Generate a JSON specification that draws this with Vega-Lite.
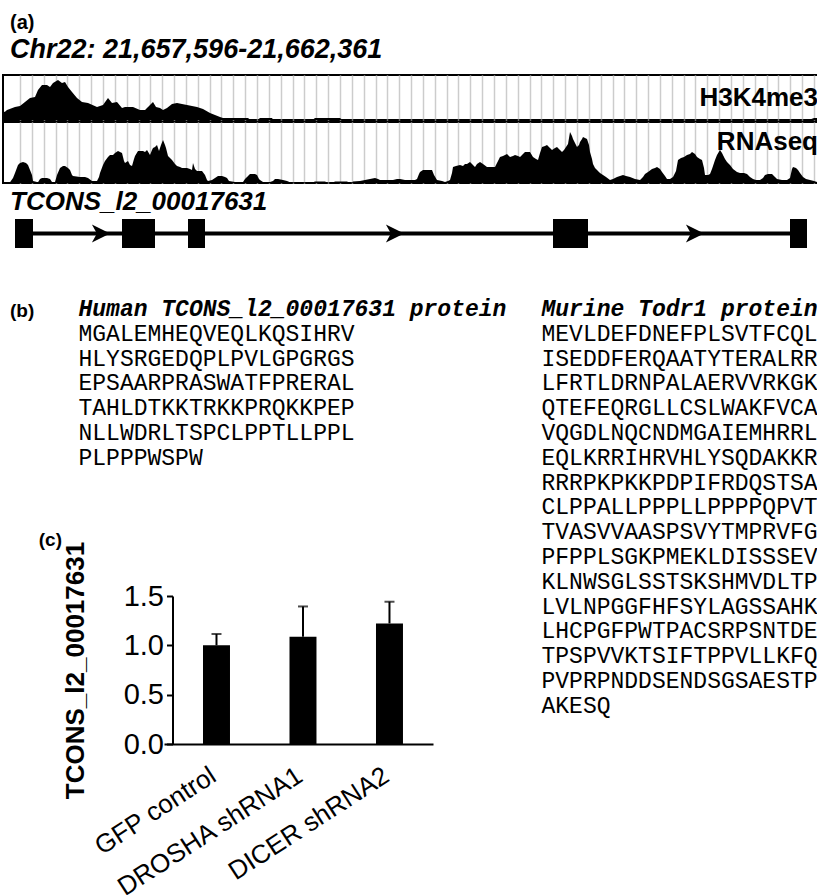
{
  "$schema": "https://vega.github.io/schema/vega-lite/v6.json",
  "background": "white",
  "padding": {"left": 2, "top": 12, "right": 0, "bottom": 0},
  "config": {
    "view": {"stroke": null},
    "font": "Liberation Sans",
    "title": {"color": "black", "font": "Liberation Sans", "fontWeight": "bold"},
    "axis": {"labelColor": "black", "titleColor": "black", "domainColor": "black", "tickColor": "black", "labelFont": "Liberation Sans", "titleFont": "Liberation Sans"}
  },
  "datasets": {
    "h3k4me3": [
      {"pos":0,"signal":8},{"pos":12,"signal":8.3},{"pos":24,"signal":10},{"pos":72,"signal":13},{"pos":102,"signal":14},{"pos":132,"signal":18},{"pos":162,"signal":22},{"pos":192,"signal":23},{"pos":210,"signal":30},{"pos":234,"signal":35},{"pos":264,"signal":35},{"pos":282,"signal":33},{"pos":300,"signal":37},{"pos":330,"signal":40},{"pos":354,"signal":37},{"pos":372,"signal":38},{"pos":390,"signal":33},{"pos":414,"signal":28},{"pos":444,"signal":22},{"pos":474,"signal":18},{"pos":510,"signal":17},{"pos":564,"signal":13},{"pos":600,"signal":15},{"pos":630,"signal":22},{"pos":654,"signal":17},{"pos":684,"signal":18},{"pos":714,"signal":12},{"pos":732,"signal":13},{"pos":780,"signal":13},{"pos":822,"signal":10},{"pos":852,"signal":10},{"pos":870,"signal":13},{"pos":900,"signal":18},{"pos":918,"signal":13},{"pos":942,"signal":12},{"pos":960,"signal":10},{"pos":984,"signal":12},{"pos":1014,"signal":16},{"pos":1044,"signal":17},{"pos":1104,"signal":15},{"pos":1164,"signal":13},{"pos":1200,"signal":11},{"pos":1242,"signal":7},{"pos":1302,"signal":3},{"pos":1320,"signal":2},{"pos":1470,"signal":2},{"pos":1482,"signal":0.5},{"pos":1530,"signal":0.5},{"pos":1542,"signal":2},{"pos":1614,"signal":2},{"pos":1620,"signal":0.5},{"pos":1860,"signal":0.5},{"pos":1872,"signal":2},{"pos":2022,"signal":2},{"pos":2034,"signal":0.5},{"pos":4842,"signal":0.5},{"pos":4866,"signal":2},{"pos":4980,"signal":2}
    ],
    "rnaseq": [
      {"pos":0,"signal":0.7},{"pos":42,"signal":0.7},{"pos":60,"signal":5},{"pos":72,"signal":10},{"pos":90,"signal":18},{"pos":102,"signal":20},{"pos":120,"signal":21},{"pos":138,"signal":20},{"pos":150,"signal":18},{"pos":162,"signal":13},{"pos":174,"signal":8},{"pos":180,"signal":2},{"pos":210,"signal":0.7},{"pos":222,"signal":4},{"pos":234,"signal":5},{"pos":264,"signal":5},{"pos":282,"signal":4},{"pos":294,"signal":1},{"pos":312,"signal":1},{"pos":324,"signal":8},{"pos":342,"signal":15},{"pos":360,"signal":17},{"pos":372,"signal":17},{"pos":390,"signal":15},{"pos":402,"signal":13},{"pos":414,"signal":8},{"pos":420,"signal":7},{"pos":462,"signal":6},{"pos":492,"signal":6},{"pos":510,"signal":5},{"pos":534,"signal":2},{"pos":564,"signal":2},{"pos":576,"signal":6},{"pos":582,"signal":10},{"pos":600,"signal":18},{"pos":612,"signal":22},{"pos":630,"signal":26},{"pos":642,"signal":28},{"pos":660,"signal":28},{"pos":672,"signal":30},{"pos":690,"signal":32},{"pos":702,"signal":31},{"pos":714,"signal":30},{"pos":726,"signal":22},{"pos":732,"signal":20},{"pos":750,"signal":22},{"pos":762,"signal":18},{"pos":774,"signal":17},{"pos":786,"signal":24},{"pos":792,"signal":27},{"pos":810,"signal":32},{"pos":828,"signal":32},{"pos":840,"signal":32},{"pos":852,"signal":31},{"pos":864,"signal":33},{"pos":882,"signal":28},{"pos":894,"signal":33},{"pos":900,"signal":35},{"pos":912,"signal":36},{"pos":924,"signal":38},{"pos":936,"signal":32},{"pos":948,"signal":38},{"pos":960,"signal":43},{"pos":972,"signal":38},{"pos":978,"signal":35},{"pos":990,"signal":27},{"pos":1002,"signal":25},{"pos":1014,"signal":23},{"pos":1032,"signal":19},{"pos":1044,"signal":17},{"pos":1062,"signal":16},{"pos":1074,"signal":15},{"pos":1104,"signal":15},{"pos":1122,"signal":14},{"pos":1134,"signal":13},{"pos":1140,"signal":20},{"pos":1152,"signal":14},{"pos":1164,"signal":12},{"pos":1194,"signal":12},{"pos":1212,"signal":8},{"pos":1224,"signal":3},{"pos":1230,"signal":2},{"pos":1254,"signal":3},{"pos":1272,"signal":5},{"pos":1290,"signal":7},{"pos":1314,"signal":7},{"pos":1332,"signal":6},{"pos":1344,"signal":5},{"pos":1356,"signal":2},{"pos":1392,"signal":1},{"pos":1440,"signal":1},{"pos":1452,"signal":4},{"pos":1464,"signal":6},{"pos":1482,"signal":9},{"pos":1512,"signal":9},{"pos":1524,"signal":8},{"pos":1536,"signal":4},{"pos":1542,"signal":3},{"pos":1560,"signal":1},{"pos":1602,"signal":1},{"pos":1620,"signal":2},{"pos":1632,"signal":4},{"pos":1650,"signal":4},{"pos":1680,"signal":3},{"pos":1704,"signal":2},{"pos":1722,"signal":0.7},{"pos":1860,"signal":0.7},{"pos":1872,"signal":1.5},{"pos":1932,"signal":1.5},{"pos":1944,"signal":0.5},{"pos":1980,"signal":0.5},{"pos":1992,"signal":1.5},{"pos":2064,"signal":1.5},{"pos":2076,"signal":0.5},{"pos":2094,"signal":0.5},{"pos":2100,"signal":1.5},{"pos":2142,"signal":2},{"pos":2172,"signal":3},{"pos":2202,"signal":4},{"pos":2232,"signal":5},{"pos":2250,"signal":4},{"pos":2262,"signal":3},{"pos":2340,"signal":3},{"pos":2364,"signal":4},{"pos":2382,"signal":4},{"pos":2412,"signal":3},{"pos":2472,"signal":3},{"pos":2484,"signal":4},{"pos":2496,"signal":9},{"pos":2502,"signal":11},{"pos":2520,"signal":13},{"pos":2550,"signal":13},{"pos":2574,"signal":13},{"pos":2586,"signal":8},{"pos":2604,"signal":3},{"pos":2634,"signal":2},{"pos":2652,"signal":1},{"pos":2670,"signal":2},{"pos":2682,"signal":3},{"pos":2694,"signal":10},{"pos":2700,"signal":16},{"pos":2718,"signal":17},{"pos":2742,"signal":18},{"pos":2760,"signal":17},{"pos":2772,"signal":19},{"pos":2784,"signal":19},{"pos":2802,"signal":21},{"pos":2814,"signal":19},{"pos":2832,"signal":16},{"pos":2844,"signal":19},{"pos":2862,"signal":21},{"pos":2880,"signal":19},{"pos":2904,"signal":16},{"pos":2952,"signal":16},{"pos":2964,"signal":20},{"pos":2982,"signal":26},{"pos":3000,"signal":27},{"pos":3024,"signal":29},{"pos":3042,"signal":26},{"pos":3060,"signal":27},{"pos":3072,"signal":28},{"pos":3090,"signal":27},{"pos":3102,"signal":26},{"pos":3120,"signal":29},{"pos":3132,"signal":31},{"pos":3162,"signal":31},{"pos":3180,"signal":26},{"pos":3198,"signal":24},{"pos":3210,"signal":23},{"pos":3222,"signal":30},{"pos":3234,"signal":36},{"pos":3252,"signal":37},{"pos":3264,"signal":38},{"pos":3282,"signal":35},{"pos":3294,"signal":33},{"pos":3312,"signal":35},{"pos":3324,"signal":36},{"pos":3342,"signal":33},{"pos":3354,"signal":31},{"pos":3366,"signal":33},{"pos":3378,"signal":36},{"pos":3390,"signal":39},{"pos":3402,"signal":51},{"pos":3414,"signal":47},{"pos":3420,"signal":44},{"pos":3432,"signal":40},{"pos":3444,"signal":36},{"pos":3456,"signal":38},{"pos":3462,"signal":41},{"pos":3474,"signal":44},{"pos":3480,"signal":46},{"pos":3492,"signal":45},{"pos":3504,"signal":44},{"pos":3516,"signal":38},{"pos":3522,"signal":31},{"pos":3534,"signal":24},{"pos":3540,"signal":19},{"pos":3552,"signal":15},{"pos":3564,"signal":13},{"pos":3582,"signal":10},{"pos":3600,"signal":8},{"pos":3618,"signal":6},{"pos":3642,"signal":3},{"pos":3660,"signal":4},{"pos":3684,"signal":6},{"pos":3702,"signal":7},{"pos":3720,"signal":8},{"pos":3738,"signal":7},{"pos":3762,"signal":6},{"pos":3792,"signal":4},{"pos":3822,"signal":3},{"pos":3840,"signal":6},{"pos":3852,"signal":9},{"pos":3870,"signal":11},{"pos":3894,"signal":14},{"pos":3912,"signal":15},{"pos":3924,"signal":16},{"pos":3942,"signal":14},{"pos":3954,"signal":11},{"pos":3972,"signal":7},{"pos":3984,"signal":4},{"pos":4002,"signal":4},{"pos":4020,"signal":6},{"pos":4038,"signal":12},{"pos":4050,"signal":23},{"pos":4068,"signal":25},{"pos":4086,"signal":26},{"pos":4104,"signal":28},{"pos":4122,"signal":29},{"pos":4134,"signal":31},{"pos":4152,"signal":29},{"pos":4164,"signal":26},{"pos":4182,"signal":24},{"pos":4194,"signal":23},{"pos":4206,"signal":15},{"pos":4212,"signal":8},{"pos":4230,"signal":8},{"pos":4242,"signal":9},{"pos":4254,"signal":14},{"pos":4272,"signal":23},{"pos":4284,"signal":28},{"pos":4302,"signal":33},{"pos":4314,"signal":30},{"pos":4332,"signal":24},{"pos":4344,"signal":21},{"pos":4362,"signal":18},{"pos":4380,"signal":14},{"pos":4404,"signal":11},{"pos":4422,"signal":10},{"pos":4446,"signal":10},{"pos":4464,"signal":9},{"pos":4482,"signal":6},{"pos":4500,"signal":4},{"pos":4518,"signal":3},{"pos":4542,"signal":3},{"pos":4560,"signal":5},{"pos":4572,"signal":8},{"pos":4590,"signal":9},{"pos":4614,"signal":9},{"pos":4632,"signal":6},{"pos":4644,"signal":4},{"pos":4674,"signal":3},{"pos":4704,"signal":3},{"pos":4722,"signal":5},{"pos":4734,"signal":14},{"pos":4740,"signal":16},{"pos":4758,"signal":15},{"pos":4770,"signal":13},{"pos":4782,"signal":10},{"pos":4800,"signal":6},{"pos":4818,"signal":4},{"pos":4842,"signal":3},{"pos":4866,"signal":2},{"pos":4884,"signal":1},{"pos":4980,"signal":1}
    ],
    "transcript": [{"name": "TCONS_l2_00017631", "start": 72, "end": 4824}],
    "exons": [
      {"exon": 1, "start": 72, "end": 180},
      {"exon": 2, "start": 714, "end": 912},
      {"exon": 3, "start": 1110, "end": 1212},
      {"exon": 4, "start": 3300, "end": 3510},
      {"exon": 5, "start": 4722, "end": 4824}
    ],
    "strand": [{"pos": 588}, {"pos": 2352}, {"pos": 4152}],
    "human": [
      {"line": 0, "text": "Human TCONS_l2_00017631 protein"},
      {"line": 1, "text": "MGALEMHEQVEQLKQSIHRV"},
      {"line": 2, "text": "HLYSRGEDQPLPVLGPGRGS"},
      {"line": 3, "text": "EPSAARPRASWATFPRERAL"},
      {"line": 4, "text": "TAHLDTKKTRKKPRQKKPEP"},
      {"line": 5, "text": "NLLWDRLTSPCLPPTLLPPL"},
      {"line": 6, "text": "PLPPPWSPW"}
    ],
    "murine": [
      {"line": 0, "text": "Murine Todr1 protein"},
      {"line": 1, "text": "MEVLDEFDNEFPLSVTFCQL"},
      {"line": 2, "text": "ISEDDFERQAATYTERALRR"},
      {"line": 3, "text": "LFRTLDRNPALAERVVRKGK"},
      {"line": 4, "text": "QTEFEQRGLLCSLWAKFVCA"},
      {"line": 5, "text": "VQGDLNQCNDMGAIEMHRRL"},
      {"line": 6, "text": "EQLKRRIHRVHLYSQDAKKR"},
      {"line": 7, "text": "RRRPKPKKPDPIFRDQSTSA"},
      {"line": 8, "text": "CLPPALLPPPLLPPPPQPVT"},
      {"line": 9, "text": "TVASVVAASPSVYTMPRVFG"},
      {"line": 10, "text": "PFPPLSGKPMEKLDISSSEV"},
      {"line": 11, "text": "KLNWSGLSSTSKSHMVDLTP"},
      {"line": 12, "text": "LVLNPGGFHFSYLAGSSAHK"},
      {"line": 13, "text": "LHCPGFPWTPACSRPSNTDE"},
      {"line": 14, "text": "TPSPVVKTSIFTPPVLLKFQ"},
      {"line": 15, "text": "PVPRPNDDSENDSGSAESTP"},
      {"line": 16, "text": "AKESQ"}
    ],
    "expression": [
      {"condition": "GFP control", "mean": 1.0, "upper": 1.115},
      {"condition": "DROSHA shRNA1", "mean": 1.087, "upper": 1.394},
      {"condition": "DICER shRNA2", "mean": 1.222, "upper": 1.442}
    ]
  },
  "spacing": 50,
  "vconcat": [
    {
      "spacing": 5,
      "vconcat": [
        {
          "spacing": 0,
          "vconcat": [
            {
              "width": 830,
              "height": 45,
              "view": {"stroke": "black", "strokeWidth": 2},
              "title": {"text": "(a)", "subtitle": "Chr22: 21,657,596-21,662,361", "anchor": "start", "frame": "group", "dx": 7, "fontSize": 20, "subtitleFont": "Liberation Sans", "subtitleFontSize": 27, "subtitleFontStyle": "italic", "subtitleFontWeight": "bold", "subtitleColor": "black", "subtitlePadding": 4, "offset": 12},
              "layer": [
                {
                  "data": {"name": "h3k4me3"},
                  "mark": {"type": "area", "color": "black"},
                  "encoding": {
                    "x": {"field": "pos", "type": "quantitative", "scale": {"domain": [0, 4980], "nice": false, "zero": false},
                      "axis": {"title": null, "labels": false, "ticks": false, "domain": false, "grid": true, "gridColor": "#cccccc", "gridWidth": 1.5,
                        "values": [102,173.1,244.2,315.3,386.4,457.5,528.6,599.7,670.8,741.9,813,884.1,955.2,1026.3,1097.4,1168.5,1239.6,1310.7,1381.8,1452.9,1524,1595.1,1666.2,1737.3,1808.4,1879.5,1950.6,2021.7,2092.8,2163.9,2235,2306.1,2377.2,2448.3,2519.4,2590.5,2661.6,2732.7,2803.8,2874.9,2946,3017.1,3088.2,3159.3,3230.4,3301.5,3372.6,3443.7,3514.8,3585.9,3657,3728.1,3799.2,3870.3,3941.4,4012.5,4083.6,4154.7,4225.8,4296.9,4368,4439.1,4510.2,4581.3,4652.4,4723.5,4794.6,4865.7,4936.8]}},
                    "y": {"field": "signal", "type": "quantitative", "scale": {"domain": [0, 45], "nice": false}, "axis": null}
                  }
                },
                {
                  "data": {"values": [{"track": "H3K4me3"}]},
                  "mark": {"type": "text", "x": "width", "dx": -15, "align": "right", "baseline": "middle", "fontSize": 26, "fontWeight": "bold", "color": "black"},
                  "encoding": {"text": {"field": "track"}}
                }
              ]
            },
            {
              "width": 830,
              "height": 61,
              "view": {"stroke": "black", "strokeWidth": 2},
              "layer": [
                {
                  "data": {"name": "rnaseq"},
                  "mark": {"type": "area", "color": "black"},
                  "encoding": {
                    "x": {"field": "pos", "type": "quantitative", "scale": {"domain": [0, 4980], "nice": false, "zero": false},
                      "axis": {"title": null, "labels": false, "ticks": false, "domain": false, "grid": true, "gridColor": "#cccccc", "gridWidth": 1.5,
                        "values": [102,173.1,244.2,315.3,386.4,457.5,528.6,599.7,670.8,741.9,813,884.1,955.2,1026.3,1097.4,1168.5,1239.6,1310.7,1381.8,1452.9,1524,1595.1,1666.2,1737.3,1808.4,1879.5,1950.6,2021.7,2092.8,2163.9,2235,2306.1,2377.2,2448.3,2519.4,2590.5,2661.6,2732.7,2803.8,2874.9,2946,3017.1,3088.2,3159.3,3230.4,3301.5,3372.6,3443.7,3514.8,3585.9,3657,3728.1,3799.2,3870.3,3941.4,4012.5,4083.6,4154.7,4225.8,4296.9,4368,4439.1,4510.2,4581.3,4652.4,4723.5,4794.6,4865.7,4936.8]}},
                    "y": {"field": "signal", "type": "quantitative", "scale": {"domain": [0, 61], "nice": false}, "axis": null}
                  }
                },
                {
                  "data": {"values": [{"track": "RNAseq"}]},
                  "mark": {"type": "text", "x": "width", "dx": -15, "dy": -11, "align": "right", "baseline": "middle", "fontSize": 26, "fontWeight": "bold", "color": "black"},
                  "encoding": {"text": {"field": "track"}}
                }
              ]
            }
          ]
        },
        {
          "width": 830,
          "height": 29,
          "title": {"text": "TCONS_l2_00017631", "anchor": "start", "frame": "group", "dx": 7, "fontSize": 26, "fontStyle": "italic", "fontWeight": "bold", "offset": -17, "baseline": "alphabetic"},
          "layer": [
            {
              "data": {"name": "transcript"},
              "mark": {"type": "rule", "color": "black", "strokeWidth": 4},
              "encoding": {
                "x": {"field": "start", "type": "quantitative", "scale": {"domain": [0, 4980], "nice": false, "zero": false}, "axis": null},
                "x2": {"field": "end"},
                "y": {"datum": 0, "type": "quantitative", "scale": {"domain": [-1, 1], "nice": false}, "axis": null}
              }
            },
            {
              "data": {"name": "exons"},
              "mark": {"type": "rect", "color": "black"},
              "encoding": {
                "x": {"field": "start", "type": "quantitative"},
                "x2": {"field": "end"}
              }
            },
            {
              "data": {"name": "strand"},
              "mark": {"type": "point", "shape": "M-1,-1L1,0L-1,1L-0.45,0Z", "filled": true, "color": "black", "opacity": 1, "size": 330},
              "encoding": {"x": {"field": "pos", "type": "quantitative"}}
            }
          ]
        }
      ]
    },
    {
      "spacing": 34,
      "hconcat": [
        {
          "spacing": 61,
          "vconcat": [
            {
              "spacing": 43,
              "hconcat": [
                {
                  "width": 14,
                  "height": 1,
                  "data": {"values": [{"panel": "(b)"}]},
                  "mark": {"type": "text", "align": "left", "baseline": "alphabetic", "fontSize": 19, "fontWeight": "bold", "color": "black"},
                  "encoding": {"text": {"field": "panel"}}
                },
                {
                  "width": 1,
                  "height": 148.8,
                  "data": {"name": "human"},
                  "encoding": {
                    "y": {"field": "line", "type": "ordinal", "scale": {"type": "point", "padding": 0}, "axis": null},
                    "text": {"field": "text"}
                  },
                  "layer": [
                    {"transform": [{"filter": "datum.line == 0"}], "mark": {"type": "text", "align": "left", "baseline": "alphabetic", "font": "Liberation Mono", "fontSize": 23, "fontStyle": "italic", "fontWeight": "bold", "color": "black"}},
                    {"transform": [{"filter": "datum.line > 0"}], "mark": {"type": "text", "align": "left", "baseline": "alphabetic", "font": "Liberation Mono", "fontSize": 23, "color": "black"}}
                  ]
                }
              ]
            },
            {
              "spacing": 0,
              "hconcat": [
                {
                  "width": 59,
                  "height": 148,
                  "data": {"values": []},
                  "mark": {"type": "text"},
                  "title": {"text": "(c)", "anchor": "end", "frame": "group", "offset": 27, "baseline": "bottom", "fontSize": 19}
                },
                {
                  "width": 269,
                  "height": 148,
                  "data": {"name": "expression"},
                  "encoding": {
                    "x": {"field": "condition", "type": "nominal", "sort": null,
                      "scale": {"paddingInner": 0.688, "paddingOuter": 0.399, "align": 0.565},
                      "axis": {"title": null, "labelAngle": -33, "labelAlign": "right", "labelBaseline": "top", "labelFontSize": 26, "labelPadding": 18, "labelOffset": -10, "ticks": false, "domainWidth": 2, "labelLimit": 400}}
                  },
                  "layer": [
                    {
                      "mark": {"type": "bar", "color": "black"},
                      "encoding": {
                        "y": {"field": "mean", "type": "quantitative", "title": "TCONS_l2_00017631", "scale": {"domain": [0, 1.5], "nice": false},
                          "axis": {"values": [0, 0.5, 1, 1.5], "format": ".1f", "labelFontSize": 29, "labelPadding": 3, "tickSize": 6, "tickWidth": 2, "domainWidth": 2, "grid": false, "offset": -8.5, "titleFontSize": 26, "titleFontWeight": "bold", "titlePadding": 35}}
                      }
                    },
                    {
                      "mark": {"type": "rule", "color": "black", "strokeWidth": 2},
                      "encoding": {
                        "y": {"field": "mean", "type": "quantitative", "title": "TCONS_l2_00017631"},
                        "y2": {"field": "upper"}
                      }
                    },
                    {
                      "mark": {"type": "tick", "color": "black", "thickness": 2, "size": 10},
                      "encoding": {"y": {"field": "upper", "type": "quantitative", "title": "TCONS_l2_00017631"}}
                    }
                  ]
                }
              ]
            }
          ]
        },
        {
          "width": 1,
          "height": 396.8,
          "data": {"name": "murine"},
          "encoding": {
            "y": {"field": "line", "type": "ordinal", "scale": {"type": "point", "padding": 0}, "axis": null},
            "text": {"field": "text"}
          },
          "layer": [
            {"transform": [{"filter": "datum.line == 0"}], "mark": {"type": "text", "align": "left", "baseline": "alphabetic", "font": "Liberation Mono", "fontSize": 23, "fontStyle": "italic", "fontWeight": "bold", "color": "black"}},
            {"transform": [{"filter": "datum.line > 0"}], "mark": {"type": "text", "align": "left", "baseline": "alphabetic", "font": "Liberation Mono", "fontSize": 23, "color": "black"}}
          ]
        }
      ]
    }
  ]
}
